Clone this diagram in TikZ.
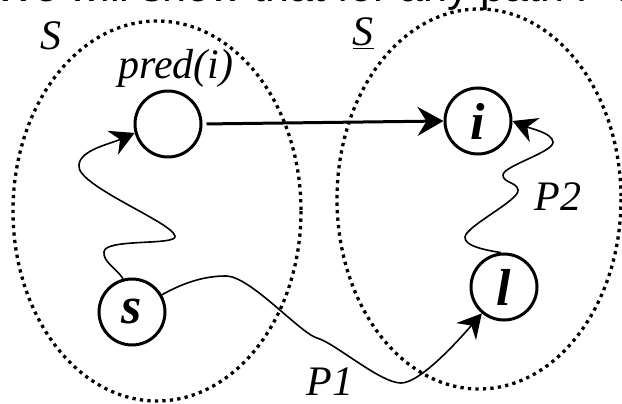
\documentclass[tikz,border=0pt]{standalone}
\usepackage{fontspec}
\setmainfont{Liberation Serif}
\setsansfont{Liberation Sans}
\usetikzlibrary{arrows.meta}
\begin{document}
\begin{tikzpicture}[x=1pt,y=-1pt,
  vertex/.style={draw,circle,line width=3pt,minimum size=66pt,inner sep=0pt,
    font=\fontsize{52}{56}\selectfont\bfseries\itshape},
  lbl/.style={font=\fontsize{42}{50}\selectfont\itshape,inner sep=0pt,anchor=base},
  setline/.style={line width=3.3pt,dash pattern=on 3.3pt off 4.2pt},
  wavy/.style={line width=1.6pt,-{Stealth[length=24pt,width=26pt,inset=8pt]}},
  stiff/.style={line width=3pt,-{Stealth[length=26pt,width=29pt,inset=9pt]}}]
\useasboundingbox (0,0) rectangle (622,404);
\clip (0,0) rectangle (622,404);

% heading, cut off at the top
\node[font=\fontsize{43}{50}\selectfont\sffamily,anchor=base west,inner sep=0pt] (head) at (-6,2) {We will show that for any path P from s};

% the two sets
\draw[setline] (157,211) ellipse [x radius=144, y radius=190];
\draw[setline] (479,199) ellipse [x radius=142, y radius=190];
\node[lbl] (setS) at (51,50) {S};
\node[lbl] (setT) at (363,46) {\underline{S}};

% vertices
\node[vertex] (pred) at (168,124) {};
\node[vertex] (i) at (478,121) {i};
\node[vertex] (s) at (132,312) {s};
\node[vertex] (l) at (504,287) {l};
\node[lbl] (predlbl) at (176,79) {pred(i)};

% edge and paths
\draw[stiff,shorten <=4pt] (pred.east) -- (i.west);
\draw[wavy] (s.105) .. controls (116,268) and (103,262) .. (104,252)
  .. controls (104,238) and (178,246) .. (175,236)
  .. controls (172,222) and (75,185) .. (79,165)
  .. controls (80,150) and (110,144) .. (pred.195);
\draw[wavy] (l.95) .. controls (485,250) and (464,246) .. (465,237)
  .. controls (466,226) and (520,200) .. (518,190)
  .. controls (517,182) and (503,183) .. (503,175)
  .. controls (503,166) and (554,152) .. (553,142)
  .. controls (552,133) and (532,129) .. (i.east);
\draw[wavy] (s.30) .. controls (185,282) and (205,276) .. (226,276)
  .. controls (250,276) and (300,333) .. (317,338)
  .. controls (335,343) and (380,383) .. (401,383)
  .. controls (420,383) and (458,341) .. (l.230);
\node[lbl] (p1) at (330,395) {P1};
\node[lbl] (p2) at (558,210) {P2};
\end{tikzpicture}
\end{document}
